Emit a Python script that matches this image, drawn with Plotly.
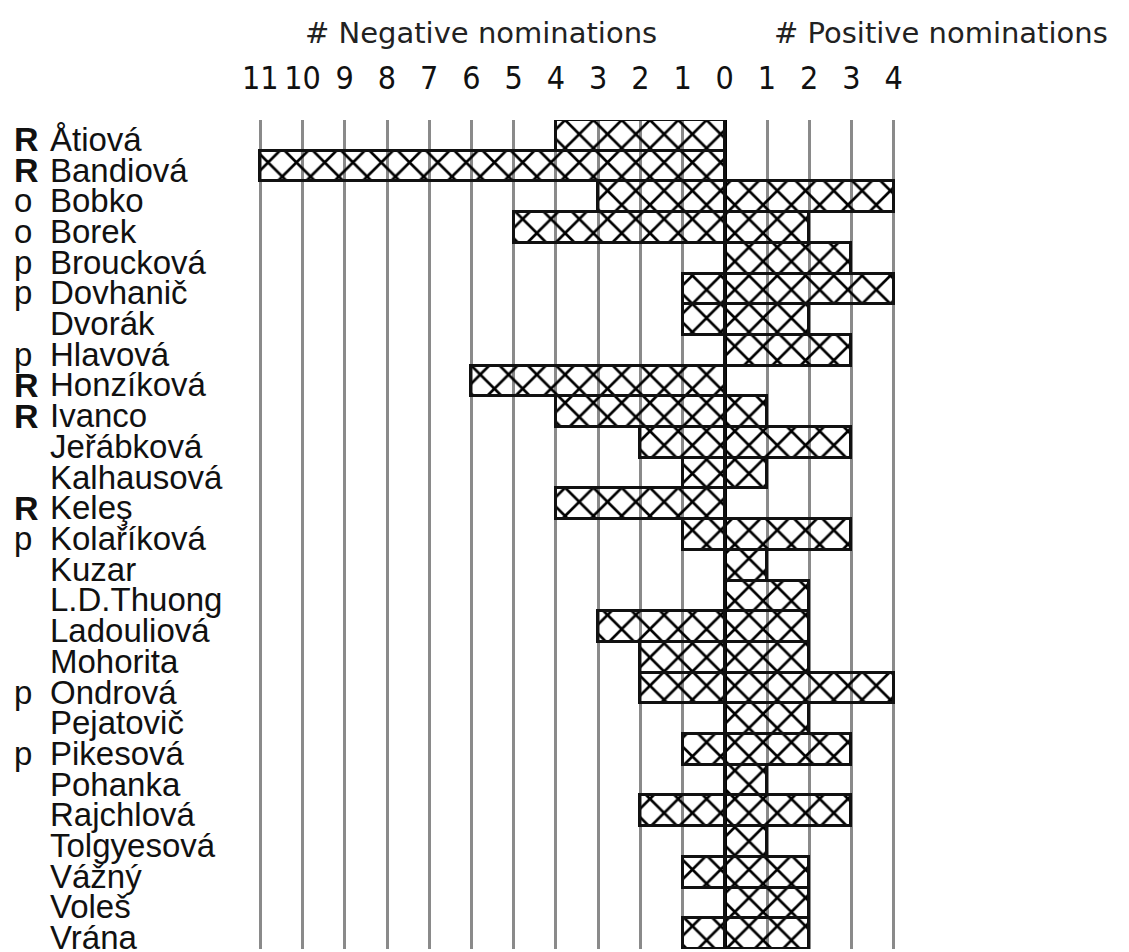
import plotly.graph_objects as go

names = ["Åtiová", "Bandiová", "Bobko", "Borek", "Broucková", "Dovhanič", "Dvorák",
         "Hlavová", "Honzíková", "Ivanco", "Jeřábková", "Kalhausová", "Keleş",
         "Kolaříková", "Kuzar", "L.D.Thuong", "Ladouliová", "Mohorita", "Ondrová",
         "Pejatovič", "Pikesová", "Pohanka", "Rajchlová", "Tolgyesová", "Vážný",
         "Voleš", "Vrána"]
prefixes = ["R", "R", "o", "o", "p", "p", "", "p", "R", "R", "", "", "R", "p", "",
            "", "", "", "p", "", "p", "", "", "", "", "", ""]
negative = [4, 11, 3, 5, 0, 1, 1, 0, 6, 4, 2, 1, 4, 1, 0, 0, 3, 2, 2, 0, 1, 0, 2, 0, 1, 0, 1]
positive = [0, 0, 4, 2, 3, 4, 2, 3, 0, 1, 3, 1, 0, 3, 1, 2, 2, 2, 4, 2, 3, 1, 3, 1, 2, 2, 2]
tick_vals = list(range(-11, 5))
tick_text = [str(abs(v)) for v in tick_vals]

pattern = dict(shape="x", fgcolor="#000000", fgopacity=1, bgcolor="rgba(255,255,255,0)",
               size=20, solidity=0.25, fillmode="overlay")

fig = go.Figure()
fig.add_trace(go.Bar(
    y=names, x=[-v if v else None for v in negative], orientation="h",
    marker=dict(color="rgba(255,255,255,0)", pattern=pattern,
                line=dict(color="#111111", width=3)),
    showlegend=False, hoverinfo="skip"))
fig.add_trace(go.Bar(
    y=names, x=[v if v else None for v in positive], orientation="h",
    marker=dict(color="rgba(255,255,255,0)", pattern=pattern,
                line=dict(color="#111111", width=3)),
    showlegend=False, hoverinfo="skip"))

# figure sits 8px in from the page corner (body margin)
FW, FH = 1121, 944
L, W = 246, 646
T, B = 112, 3
def px_to_paper(px):
    return (px - L) / W

annotations = []
for nm, pf in zip(names, prefixes):
    annotations.append(dict(x=px_to_paper(40), xref="paper", y=nm, yref="y",
                            text=nm, showarrow=False, xanchor="left", yanchor="middle",
                            yshift=-4,
                            font=dict(family="Liberation Sans, Arial, sans-serif",
                                      size=33, color="#111111")))
    if pf:
        bold = pf == "R"
        annotations.append(dict(x=px_to_paper(4), xref="paper", y=nm, yref="y",
                                text=f"<b>{pf}</b>" if bold else pf, showarrow=False,
                                xanchor="left", yanchor="middle", yshift=-4,
                                font=dict(family="Liberation Sans, Arial, sans-serif",
                                          size=34 if bold else 33, color="#111111")))

for label, cx in [("# Negative nominations", 473), ("# Positive nominations", 933)]:
    annotations.append(dict(x=px_to_paper(cx), xref="paper", y=1, yref="paper",
                            yshift=T - 25, text=label, showarrow=False,
                            xanchor="center", yanchor="middle",
                            font=dict(family="DejaVu Sans, sans-serif", size=29,
                                      color="#222222")))

fig.update_layout(
    width=FW, height=FH,
    margin=dict(l=L, r=FW - L - W, t=T, b=B, autoexpand=False),
    paper_bgcolor="white", plot_bgcolor="white",
    barmode="relative", bargap=0,
    annotations=annotations,
    xaxis=dict(range=[-11.15, 4.15], side="top", tickmode="array",
               tickvals=tick_vals, ticktext=tick_text, tickangle=0,
               tickfont=dict(family="DejaVu Sans Condensed, DejaVu Sans, sans-serif",
                             size=32, color="#111111"),
               ticks="", ticklabelstandoff=24, automargin=False,
               showgrid=True, gridcolor="#8a8a8a", gridwidth=2.5,
               zeroline=True, zerolinecolor="#000000", zerolinewidth=4,
               showline=False, fixedrange=True),
    yaxis=dict(categoryorder="array", categoryarray=names, range=[26.5, -0.5],
               showticklabels=False, showgrid=False, zeroline=False, showline=False,
               ticks="", automargin=False),
)

fig.write_html("out.html")
